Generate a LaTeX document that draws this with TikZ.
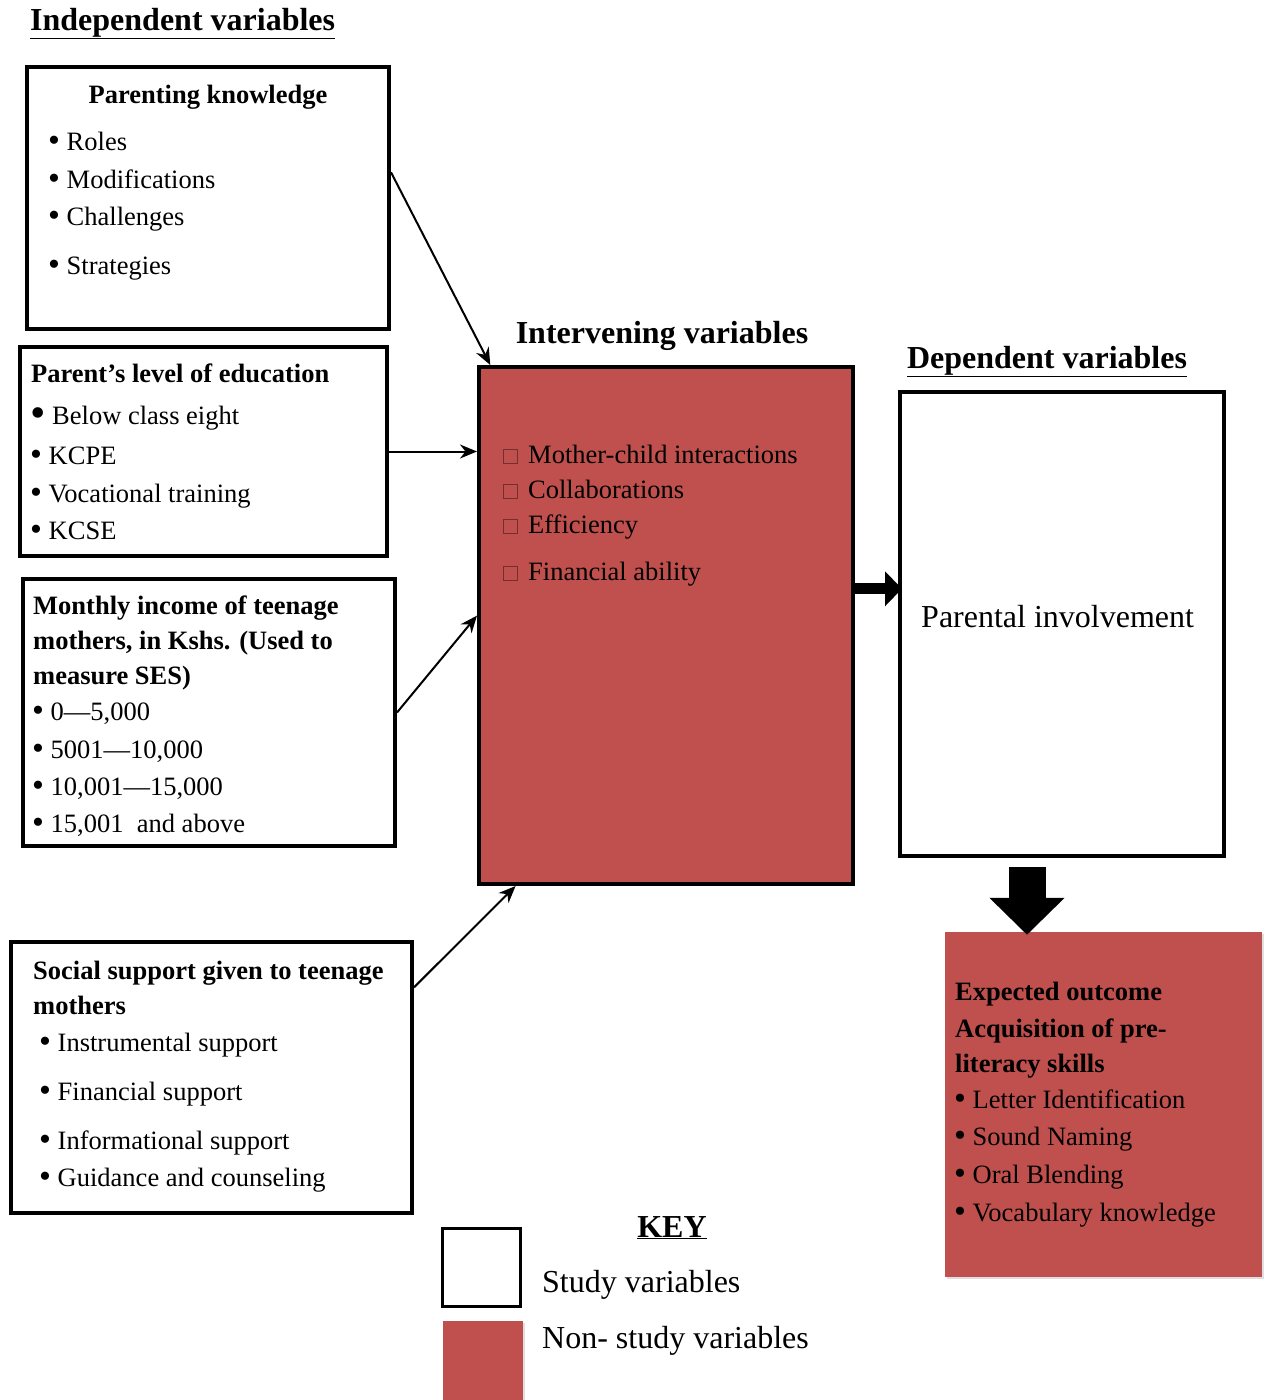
\documentclass[tikz,border=0pt]{standalone}
\usepackage{fontspec}
\setmainfont{Liberation Serif}
\usetikzlibrary{arrows.meta}
\usetikzlibrary{shadows}
\definecolor{nonstudy}{HTML}{C0504D}
\newcommand{\dotmark}{\raisebox{-1.5pt}{\fontsize{34}{34}\selectfont\textbullet}\ }

\begin{document}
\begin{tikzpicture}[x=1pt,y=-1pt,>={Stealth[length=17pt,width=14pt]},
  study box/.style={draw,line width=4pt,fill=white,inner sep=0pt},
  nonstudy box/.style={draw,line width=4pt,fill=nonstudy,inner sep=0pt},
  item/.style={anchor=base west,inner sep=0pt,font=\fontsize{26.5}{30}\selectfont},
  head/.style={item,font=\fontsize{26.5}{30}\selectfont\bfseries},
  title/.style={anchor=base,inner sep=0pt,font=\fontsize{32}{36}\selectfont\bfseries},
  link/.style={->,line width=2pt},
  fat link/.style={line width=#1,-{Triangle[length=17pt,width=34pt]}},
  tick box/.style={draw=nonstudy!60!black,line width=0.9pt,minimum size=14pt,inner sep=0pt}]

  \useasboundingbox (0,0) rectangle (1266,1400);

  % titles
  \node[title,anchor=base west] (indep) at (30,30) {\underline{Independent variables}};
  \node[title] (interv title) at (662,343) {Intervening variables};
  \node[title] (dep title) at (1047,368) {\underline{Dependent variables}};

  % independent variables
  \node[study box,minimum width=362,minimum height=262] (pk) at (208,198) {};
  \node[head,anchor=base] (pk0) at (208,103) {Parenting knowledge};
  \foreach \yy/\txt [count=\n] in {150/Roles,188/Modifications,225/Challenges,274/Strategies}
    \node[item] (pk\n) at (48,\yy) {\dotmark\txt};

  \node[study box,minimum width=367,minimum height=209] (edu) at (203.5,451.5) {};
  \node[head] (edu0) at (31,382) {Parent’s level of education};
  \node[item] (edu1) at (30,424) {\raisebox{-3pt}{\fontsize{44}{44}\selectfont\textbullet}\ Below class eight};
  \foreach \yy/\txt [count=\n from 2] in {464/KCPE,502/Vocational training,539/KCSE}
    \node[item] (edu\n) at (30,\yy) {\dotmark\txt};

  \node[study box,minimum width=372,minimum height=267] (inc) at (209,712.5) {};
  \foreach \yy/\txt [count=\n] in {614/Monthly income of teenage,649/{mothers, in Kshs. (Used to},684/measure SES)}
    \node[head] (inchead\n) at (33,\yy) {\txt};
  \foreach \yy/\txt [count=\n] in {720/{0—5,000},758/{5001—10,000},795/{10,001—15,000},832/{15,001\ \ and above}}
    \node[item] (inc\n) at (32,\yy) {\dotmark\txt};

  \node[study box,minimum width=401,minimum height=271] (soc) at (211.5,1077.5) {};
  \node[head] (sochead1) at (33,979) {Social support given to teenage};
  \node[head] (sochead2) at (33,1014) {mothers};
  \foreach \yy/\txt [count=\n] in {1051/Instrumental support,1100/Financial support,1149/Informational support,1186/Guidance and counseling}
    \node[item] (soc\n) at (39,\yy) {\dotmark\txt};

  % intervening variables
  \node[nonstudy box,minimum width=374,minimum height=517] (interv) at (666,625.5) {};
  \foreach \yy/\txt [count=\n] in {456/Mother-child interactions,491/Collaborations,526/Efficiency,573/Financial ability}{
    \node[tick box] (tick\n) at (510,\yy) {};
    \node[item] (interv\n) at (528,\yy+7) {\txt};
  }

  % dependent variable
  \node[study box,minimum width=324,minimum height=464] (dep) at (1062,624) {};
  \node[item,font=\fontsize{32}{36}\selectfont] (depname) at (921,627) {Parental involvement};

  % expected outcome
  \node[fill=nonstudy,inner sep=0pt,minimum width=317,minimum height=345,
    drop shadow={shadow xshift=2pt,shadow yshift=-2pt,opacity=0.25}] (outcome) at (1103.5,1104.5) {};
  \foreach \yy/\txt [count=\n] in {1000/Expected outcome,1037/Acquisition of pre-,1072/literacy skills}
    \node[head] (outhead\n) at (955,\yy) {\txt};
  \foreach \yy/\txt [count=\n] in {1108/Letter Identification,1145/Sound Naming,1183/Oral Blending,1221/Vocabulary knowledge}
    \node[item] (out\n) at (954,\yy) {\dotmark\txt};

  % connectors
  \draw[link] (pk.8) -- (interv.124);
  \draw[link] (edu.east) -- (edu.east -| interv.west);
  \draw[link] (inc.east) -- (interv.177);
  \draw[link] (soc.24) -- (interv.240);

  \draw[fat link=11pt] (interv.11) -- ([xshift=4pt]interv.11 -| dep.west);
  \coordinate (drop) at ([xshift=-35pt,yshift=-9pt]dep.south);
  \draw[line width=37pt,-{Triangle[length=37pt,width=73pt]}] (drop) -- ([yshift=-3pt]drop |- outcome.north);

  % key
  \node[title] (key) at (672,1237) {\underline{KEY}};
  \node[draw,line width=3pt,fill=white,minimum size=78pt,inner sep=0pt] (keystudy) at (481.5,1267.5) {};
  \node[fill=nonstudy,minimum width=80pt,minimum height=79pt,inner sep=0pt,
    drop shadow={shadow xshift=2pt,shadow yshift=-2pt,opacity=0.25}] (keynon) at (482.5,1360.5) {};
  \node[item,font=\fontsize{32}{36}\selectfont] (keystudytext) at (542,1292) {Study variables};
  \node[item,font=\fontsize{32}{36}\selectfont] (keynontext) at (542,1348) {Non- study variables};
\end{tikzpicture}
\end{document}
